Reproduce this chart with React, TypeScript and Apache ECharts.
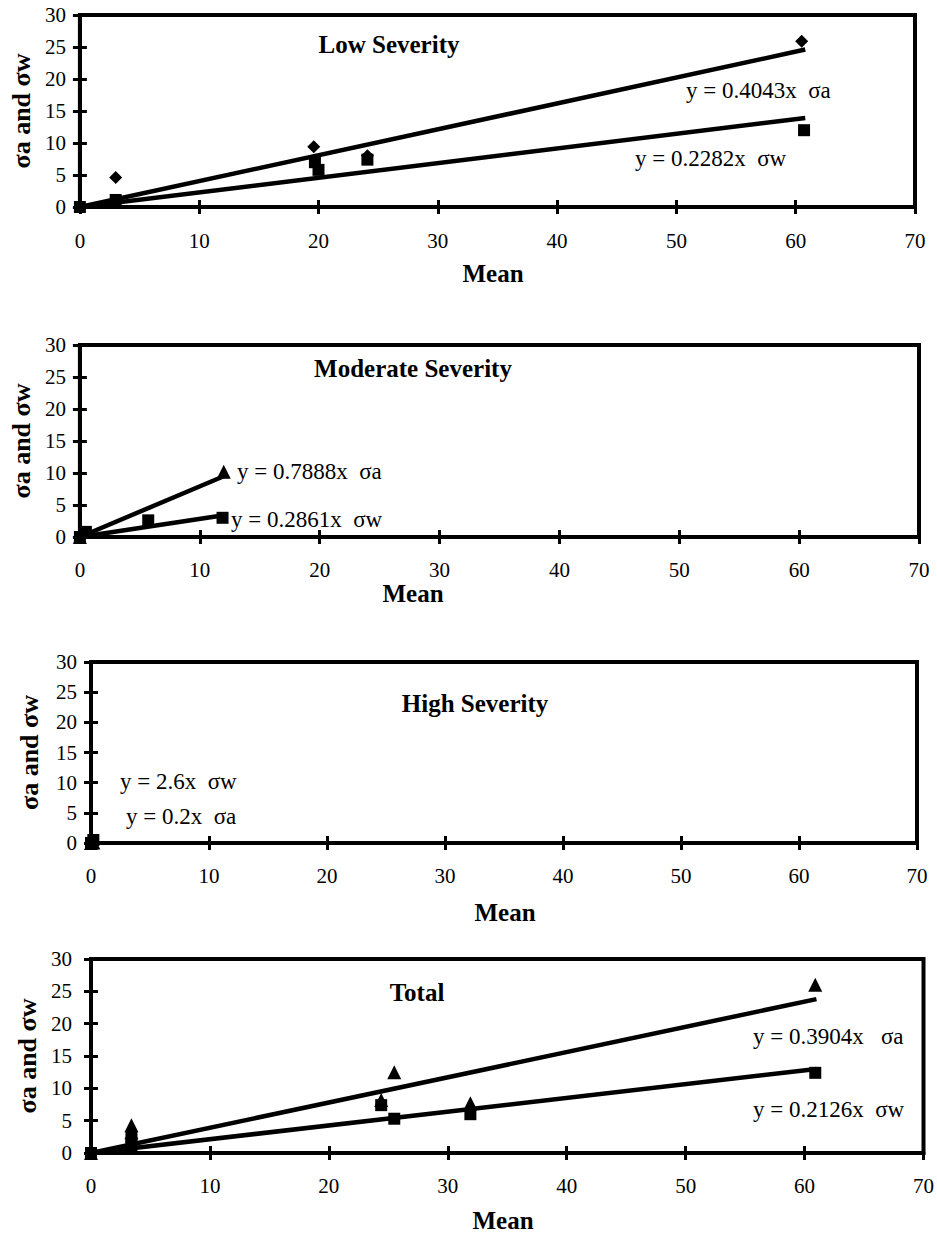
import React, { useEffect, useRef } from "react";
import * as echarts from "echarts";

const FONT = "'Liberation Serif', 'Times New Roman', Times, serif";

// ---- Tick values ----
const xTicks = [0, 10, 20, 30, 40, 50, 60, 70];
const yTicks = [0, 5, 10, 15, 20, 25, 30];

// ---- Panel titles / labels ----
const panelTitles = ["Low Severity", "Moderate Severity", "High Severity", "Total"];
const xAxisTitle = "Mean";
const yAxisTitle = "σa and σw";

// ---- Low Severity ----
const lowMeanA = [0, 3.0, 19.6, 24.1, 60.5];
const lowSigmaA = [0, 4.6, 9.4, 8.0, 25.9];
const lowMeanW = [0, 3.0, 19.7, 20.0, 24.1, 60.7];
const lowSigmaW = [0, 1.1, 7.0, 5.8, 7.4, 12.0];
const lowTrendA = [[0, 0], [60.8, 24.6]];
const lowTrendW = [[0, 0], [60.8, 13.9]];
const lowEqA = "y = 0.4043x\u00a0\u00a0σa";
const lowEqW = "y = 0.2282x\u00a0\u00a0σw";

// ---- Moderate Severity ----
const modMeanA = [0, 12.0];
const modSigmaA = [0, 10.2];
const modMeanW = [0, 0.5, 5.7, 11.9];
const modSigmaW = [0, 0.8, 2.6, 3.0];
const modTrendA = [[0, 0], [12.0, 9.5]];
const modTrendW = [[0, 0], [12.0, 3.4]];
const modEqA = "y = 0.7888x\u00a0\u00a0σa";
const modEqW = "y = 0.2861x\u00a0\u00a0σw";

// ---- High Severity ----
const highMeanA = [0, 0.2];
const highSigmaA = [0, 0.1];
const highMeanW = [0, 0.2];
const highSigmaW = [0, 0.5];
const highTrendA = [[0, 0], [0.25, 0.05]];
const highTrendW = [[0, 0], [0.25, 0.65]];
const highEqW = "y = 2.6x\u00a0\u00a0σw";
const highEqA = "y = 0.2x\u00a0\u00a0σa";

// ---- Total ----
const totMeanA = [0, 3.4, 3.4, 24.4, 25.5, 31.9, 60.9];
const totSigmaA = [0, 4.3, 3.2, 8.2, 12.5, 7.7, 26.0];
const totMeanW = [0, 3.4, 3.4, 24.4, 25.5, 31.9, 60.9];
const totSigmaW = [0, 2.4, 1.2, 7.4, 5.3, 6.0, 12.4];
const totTrendA = [[0, 0], [61.0, 23.8]];
const totTrendW = [[0, 0], [61.0, 13.0]];
const totEqA = "y = 0.3904x\u00a0\u00a0\u00a0σa";
const totEqW = "y = 0.2126x\u00a0\u00a0σw";

const zip = (xs: number[], ys: number[]) => xs.map((x, i) => [x, ys[i]]);

type Panel = {
  grid: { left: number; top: number; width: number; height: number };
  yLabelMargin: number;
  yNameGap: number;
  xLabelMargin: number;
  aSymbol: string;
  aSize: number;
  a: number[][];
  w: number[][];
  trendA: number[][];
  trendW: number[][];
};

const panels: Panel[] = [
  {
    grid: { left: 77, top: 15, width: 838, height: 192 },
    yLabelMargin: 14, yNameGap: 35, xLabelMargin: 23,
    aSymbol: "diamond", aSize: 13,
    a: zip(lowMeanA, lowSigmaA), w: zip(lowMeanW, lowSigmaW),
    trendA: lowTrendA, trendW: lowTrendW,
  },
  {
    grid: { left: 75, top: 345, width: 844, height: 192 },
    yLabelMargin: 14, yNameGap: 33, xLabelMargin: 22,
    aSymbol: "triangle", aSize: 14,
    a: zip(modMeanA, modSigmaA), w: zip(modMeanW, modSigmaW),
    trendA: modTrendA, trendW: modTrendW,
  },
  {
    grid: { left: 91, top: 662, width: 826, height: 181 },
    yLabelMargin: 14, yNameGap: 49, xLabelMargin: 22,
    aSymbol: "triangle", aSize: 14,
    a: zip(highMeanA, highSigmaA), w: zip(highMeanW, highSigmaW),
    trendA: highTrendA, trendW: highTrendW,
  },
  {
    grid: { left: 91, top: 959, width: 835, height: 194 },
    yLabelMargin: 19, yNameGap: 51, xLabelMargin: 22,
    aSymbol: "triangle", aSize: 14,
    a: zip(totMeanA, totSigmaA), w: zip(totMeanW, totSigmaW),
    trendA: totTrendA, trendW: totTrendW,
  },
];

// annotation texts: [text, x, y, bold, size, align]
const annotations: [string, number, number, boolean, number, string][] = [
  [panelTitles[0], 389, 44, true, 25, "center"],
  [panelTitles[1], 413, 368, true, 25, "center"],
  [panelTitles[2], 475, 703, true, 25, "center"],
  [panelTitles[3], 417, 992, true, 25, "center"],
  [lowEqA, 686, 90, false, 23, "left"],
  [lowEqW, 635, 158, false, 23, "left"],
  [modEqA, 237, 471, false, 23, "left"],
  [modEqW, 231, 519, false, 23, "left"],
  [highEqW, 120, 781, false, 23, "left"],
  [highEqA, 126, 816, false, 23, "left"],
  [totEqA, 753, 1036, false, 23, "left"],
  [totEqW, 753, 1109, false, 23, "left"],
  [xAxisTitle, 493, 273, true, 25, "center"],
  [xAxisTitle, 413, 593, true, 25, "center"],
  [xAxisTitle, 505, 912, true, 25, "center"],
  [xAxisTitle, 503, 1220, true, 25, "center"],
];

export default function App() {
  const ref = useRef<HTMLDivElement>(null);

  useEffect(() => {
    if (!ref.current) return;
    const chart = echarts.init(ref.current, undefined, { renderer: "svg" });

    const grids: any[] = [];
    const xAxes: any[] = [];
    const yAxes: any[] = [];
    const series: any[] = [];

    panels.forEach((p, i) => {
      grids.push({
        ...p.grid,
        show: true,
        borderColor: "#000",
        borderWidth: 4,
        backgroundColor: "transparent",
      });
      const xBase = {
        gridIndex: i,
        type: "value",
        min: xTicks[0],
        max: xTicks[xTicks.length - 1],
        interval: xTicks[1] - xTicks[0],
        position: "bottom",
        splitLine: { show: false },
      };
      xAxes.push({
        ...xBase,
        axisLine: { show: true, onZero: false, lineStyle: { color: "#000", width: 4 } },
        axisTick: { show: true, inside: false, length: 7, lineStyle: { color: "#000", width: 3 } },
        axisLabel: { show: true, color: "#000", fontSize: 21, fontFamily: FONT, margin: p.xLabelMargin },
      });
      xAxes.push({
        ...xBase,
        axisLine: { show: false, onZero: false },
        axisTick: { show: true, inside: true, length: 7, lineStyle: { color: "#000", width: 3 } },
        axisLabel: { show: false },
      });
      const yBase = {
        gridIndex: i,
        type: "value",
        min: yTicks[0],
        max: yTicks[yTicks.length - 1],
        interval: yTicks[1] - yTicks[0],
        position: "left",
        splitLine: { show: false },
      };
      yAxes.push({
        ...yBase,
        name: yAxisTitle,
        nameLocation: "middle",
        nameGap: p.yNameGap,
        nameTextStyle: { color: "#000", fontSize: 26, fontWeight: "bold", fontFamily: FONT },
        axisLine: { show: true, onZero: false, lineStyle: { color: "#000", width: 4 } },
        axisTick: { show: true, inside: false, length: 7, lineStyle: { color: "#000", width: 3 } },
        axisLabel: { show: true, color: "#000", fontSize: 21, fontFamily: FONT, margin: p.yLabelMargin },
      });
      yAxes.push({
        ...yBase,
        axisLine: { show: false, onZero: false },
        axisTick: { show: true, inside: true, length: 7, lineStyle: { color: "#000", width: 3 } },
        axisLabel: { show: false },
      });
      const xi = i * 2;
      const yi = i * 2;
      series.push({
        type: "line",
        xAxisIndex: xi,
        yAxisIndex: yi,
        data: p.trendA,
        showSymbol: false,
        lineStyle: { color: "#000", width: 4.5 },
        z: 2,
      });
      series.push({
        type: "line",
        xAxisIndex: xi,
        yAxisIndex: yi,
        data: p.trendW,
        showSymbol: false,
        lineStyle: { color: "#000", width: 4.5 },
        z: 2,
      });
      series.push({
        type: "scatter",
        xAxisIndex: xi,
        yAxisIndex: yi,
        data: p.w,
        symbol: "rect",
        symbolSize: 12,
        itemStyle: { color: "#000", opacity: 1 },
        z: 3,
      });
      series.push({
        type: "scatter",
        xAxisIndex: xi,
        yAxisIndex: yi,
        data: p.a,
        symbol: p.aSymbol,
        symbolSize: p.aSize,
        itemStyle: { color: "#000", opacity: 1 },
        z: 4,
      });
    });

    const graphic = annotations.map(([text, x, y, bold, size, align]) => ({
      type: "text",
      x,
      y,
      style: {
        text,
        fill: "#000",
        font: `${bold ? "bold " : ""}${size}px ${FONT}`,
        textAlign: align,
        textVerticalAlign: "middle",
      },
      z: 10,
    }));

    chart.setOption({
      animation: false,
      backgroundColor: "#fff",
      grid: grids,
      xAxis: xAxes,
      yAxis: yAxes,
      series,
      graphic,
    });

    return () => chart.dispose();
  }, []);

  return (
    <div
      ref={ref}
      style={{ position: "absolute", left: 0, top: 0, width: 937, height: 1233 }}
    />
  );
}
